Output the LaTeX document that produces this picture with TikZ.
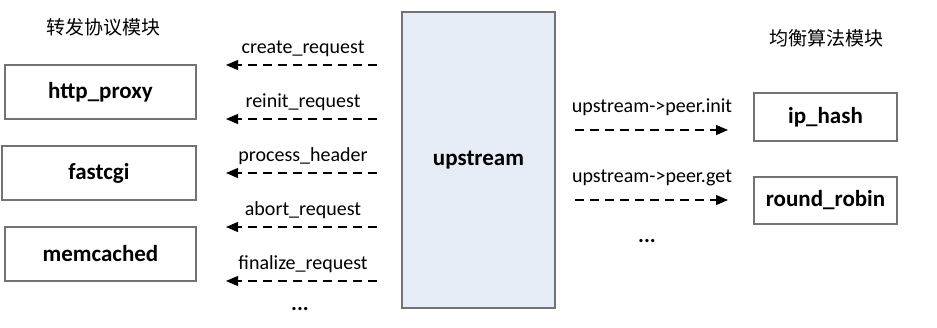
\documentclass[tikz,border=0pt]{standalone}
\usepackage{fontspec}
\setmainfont{Carlito}
\newfontfamily\cjk{Noto Sans CJK SC}
\usetikzlibrary{arrows.meta, positioning}
\definecolor{upfill}{HTML}{E6ECF6}

\tikzset{
  modbox/.style={draw=black!55, line width=1.4pt, fill=white, font=\fontsize{23}{27}\selectfont\bfseries},
  hookarrow/.style={line width=1.1pt, dash pattern=on 9pt off 6pt, -{Triangle[length=12pt, width=10pt]}},
  calllabel/.style={font=\fontsize{20}{24}\selectfont, above=5pt}
}

\begin{document}
\begin{tikzpicture}[x=1pt, y=-1pt]
  \useasboundingbox (0,0) rectangle (937,327);

  % 转发协议模块
  \node[font=\fontsize{19}{22}\selectfont\cjk] (ltitle) at (103,27) {转发协议模块};
  \node[modbox, minimum width=191pt, minimum height=54pt] (http) at (100.5,92) {http\_proxy};
  \node[modbox, minimum width=194pt, minimum height=54pt] (fcgi) at (99,173) {fastcgi};
  \node[modbox, minimum width=191pt, minimum height=54pt] (memc) at (100.5,254) {memcached};

  % upstream
  \node[draw=black!55, line width=1.4pt, fill=upfill,
        minimum width=153pt, minimum height=296pt,
        font=\fontsize{23}{27}\selectfont\bfseries] (up) at (478.5,160) {upstream};

  % 回调函数
  \foreach \i/\txt/\yy in {1/create\_request/65, 2/reinit\_request/119, 3/process\_header/173,
                           4/abort\_request/227, 5/finalize\_request/281} {
    \coordinate (ls\i) at (377,\yy);
    \coordinate (le\i) at (226,\yy);
    \draw[hookarrow] (ls\i) -- (le\i);
    \node[calllabel] (lbl\i) at (303,\yy) {\txt};
  }
  \node[font=\fontsize{22}{26}\selectfont\bfseries] (ldots) at (300,309) {...};

  % 均衡算法模块
  \node[font=\fontsize{19}{22}\selectfont\cjk] (rtitle) at (826,38) {均衡算法模块};
  \node[modbox, minimum width=143pt, minimum height=48pt] (iph) at (825.5,117) {ip\_hash};
  \node[modbox, minimum width=143pt, minimum height=47pt] (rr) at (825.5,200.5) {round\_robin};

  \coordinate (rs1) at (575,130);
  \coordinate (re1) at (728,130);
  \coordinate (rs2) at (575,200);
  \coordinate (re2) at (728,200);
  \draw[hookarrow] (rs1) -- (re1);
  \draw[hookarrow] (rs2) -- (re2);
  \node[calllabel, above=11pt] (rlbl1) at (652,130) {upstream->peer.init};
  \node[calllabel, above=11pt] (rlbl2) at (652,200) {upstream->peer.get};
  \node[font=\fontsize{22}{26}\selectfont\bfseries] (rdots) at (647,241) {...};
\end{tikzpicture}
\end{document}
